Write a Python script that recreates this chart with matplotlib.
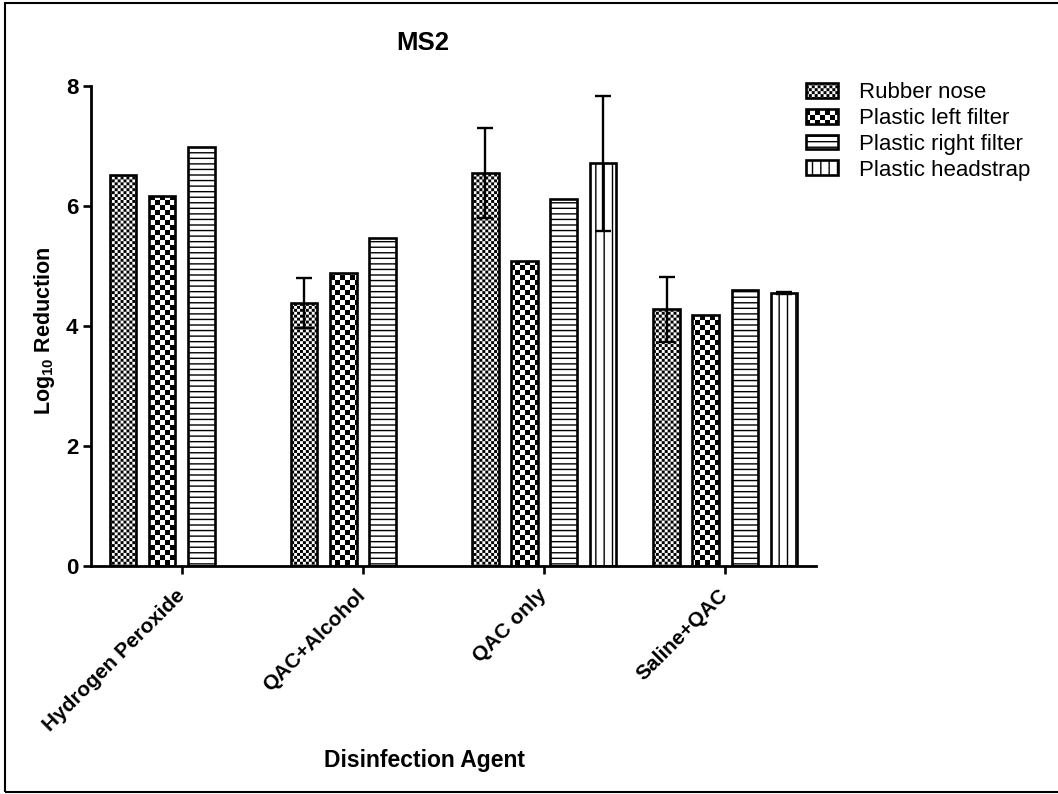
import numpy as np
import matplotlib
matplotlib.use("Agg")
import matplotlib.pyplot as plt
import matplotlib.hatch as mhatch
from matplotlib.path import Path
from matplotlib.patches import Rectangle

# data
agents = ['Hydrogen Peroxide', 'QAC+Alcohol', 'QAC only', 'Saline+QAC']
series = ['Rubber nose', 'Plastic left filter', 'Plastic right filter', 'Plastic headstrap']
rubber_nose = [6.52, 4.38, 6.55, 4.28]
rubber_nose_err = [0.0, 0.42, 0.75, 0.54]
left_filter = [6.16, 4.88, 5.09, 4.18]
left_filter_err = [0.0, 0.0, 0.0, 0.0]
right_filter = [6.98, 5.47, 6.12, 4.60]
right_filter_err = [0.0, 0.0, 0.0, 0.0]
headstrap = [np.nan, np.nan, 6.71, 4.55]
headstrap_err = [0.0, 0.0, 1.13, 0.02]


# checkerboard hatches ('*' fine, 'O' coarse) in place of stars / big circles
class CheckerHatch(mhatch.HatchPatternBase):
    char = '*'
    cells_per_char = 34

    def __init__(self, hatch, density):
        self.cells = self.cells_per_char * hatch.count(self.char)
        self.num_vertices = (self.cells * self.cells // 2) * 5

    def set_vertices_and_codes(self, vertices, codes):
        s = 1.0 / self.cells
        inset = 0.0069
        k = 0
        for r in range(self.cells):
            for c in range(self.cells):
                if (r + c) % 2:
                    continue
                x0, y0 = c * s + inset, r * s + inset
                x1, y1 = (c + 1) * s - inset, (r + 1) * s - inset
                vertices[k:k + 5] = [(x0, y0), (x1, y0), (x1, y1), (x0, y1), (x0, y0)]
                codes[k:k + 5] = [Path.MOVETO, Path.LINETO, Path.LINETO,
                                  Path.LINETO, Path.CLOSEPOLY]
                k += 5


class CoarseChecker(CheckerHatch):
    char = 'O'
    cells_per_char = 20


mhatch._hatch_types = [h for h in mhatch._hatch_types
                       if h not in (mhatch.LargeCircles, mhatch.Stars)]
mhatch._hatch_types += [CheckerHatch, CoarseChecker]

plt.rcParams['font.family'] = ['Liberation Sans', 'DejaVu Sans']
plt.rcParams['mathtext.fontset'] = 'custom'
plt.rcParams['mathtext.rm'] = 'Liberation Sans'
plt.rcParams['mathtext.bf'] = 'Liberation Sans:bold'
plt.rcParams['hatch.linewidth'] = 1.0
plt.rcParams['hatch.color'] = 'black'

fig = plt.figure(figsize=(10.58, 7.94), dpi=100)
ax = fig.add_axes([91 / 1058, 1 - 566 / 794, (816 - 91) / 1058, (566 - 86) / 794])

values = [rubber_nose, left_filter, right_filter, headstrap]
errors = [rubber_nose_err, left_filter_err, right_filter_err, headstrap_err]
hatches = ['*', 'O', '---', '||']
step = 0.216
width = 0.147
x = np.arange(len(agents))

for j, (vals, errs, h, name) in enumerate(zip(values, errors, hatches, series)):
    pos = x + (j - 1.5) * step
    ax.bar(pos, vals, width, color='white', edgecolor='black', linewidth=1.9,
           hatch=h, label=name, zorder=2)
    errs = np.array(errs)
    vals = np.array(vals)
    m = errs > 0
    if m.any():
        ax.errorbar(pos[m], vals[m], yerr=errs[m], fmt='none', ecolor='black',
                    elinewidth=1.7, capsize=5.5, capthick=1.7, zorder=3)

ax.set_xlim(-0.5, 3.5)
ax.set_ylim(0, 8)
ax.set_yticks([0, 2, 4, 6, 8])
ax.set_xticks(x)
ax.set_xticklabels(agents, rotation=45, ha='right', va='center',
                   rotation_mode='anchor', fontsize=15, fontweight='bold')
for lab in ax.get_yticklabels():
    lab.set_fontweight('bold')
ax.tick_params(axis='y', labelsize=16, width=1.9, length=6, pad=3)
ax.tick_params(axis='x', width=1.9, length=6, pad=13)
for s in ['top', 'right']:
    ax.spines[s].set_visible(False)
for s in ['left', 'bottom']:
    ax.spines[s].set_linewidth(2.0)

fig.text(45 / 1058, 1 - 331 / 794, r'Log$_{\mathbf{10}}$ Reduction', fontsize=15.5,
         fontweight='bold', rotation=90, ha='center', va='center')
fig.text(425 / 1058, 1 - 760 / 794, 'Disinfection Agent', fontsize=16.5,
         fontweight='bold', ha='center', va='center')
fig.text(423 / 1058, 1 - 43 / 794, 'MS2', fontsize=18.5, fontweight='bold',
         ha='center', va='center')

fig.legend(loc='upper left', bbox_to_anchor=(806 / 1058, 1 - 82 / 794),
           frameon=False, fontsize=16, borderaxespad=0, borderpad=0,
           handlelength=1.45, handleheight=0.65, handletextpad=0.95, labelspacing=0.22)

# outer frame
fig.patches.append(Rectangle((5 / 1058, 2 / 794), 1.1, 1 - 5 / 794,
                             transform=fig.transFigure, fill=False,
                             edgecolor='black', linewidth=1.5))

fig.savefig('out.png', dpi=100)
